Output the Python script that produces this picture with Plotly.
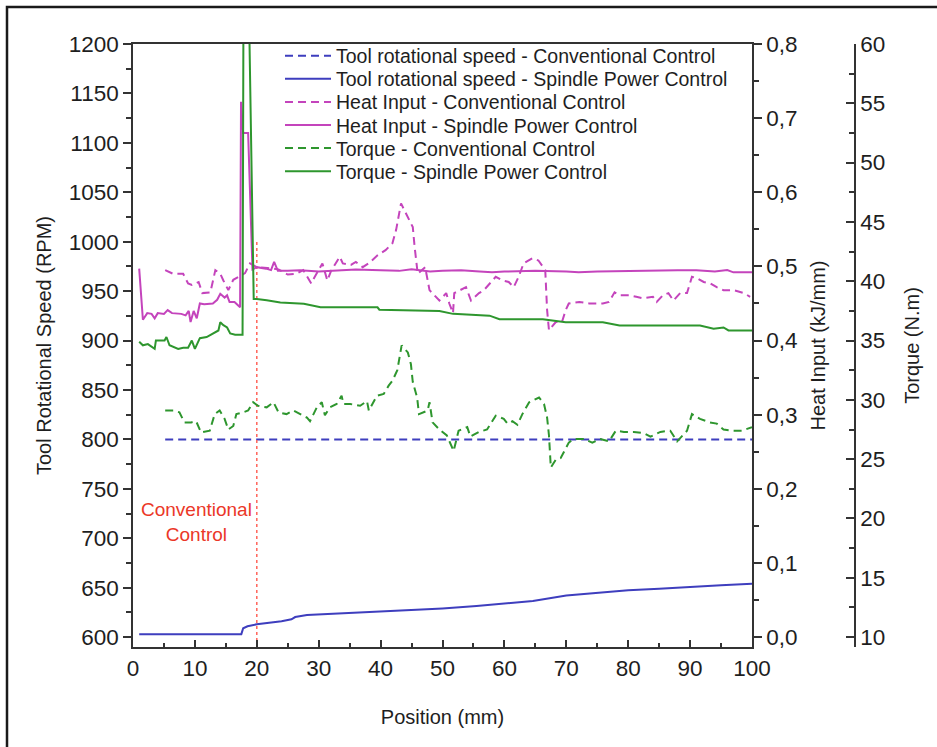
import plotly.graph_objects as go

# ---- Tool rotational speed (RPM) ----
rpm_conv_x = [5.2, 100]
rpm_conv_y = [800, 800]

rpm_spc_x = [1, 17.5, 17.8, 18.5, 20, 22, 24, 25.6, 26.2, 28.1, 32, 37.9, 45.1, 50, 55.5,
             60, 64.6, 70, 75, 80, 85, 90, 95, 100]
rpm_spc_y = [603, 603, 609, 611, 613, 614.5, 616, 618, 620.3, 622.3, 623.5, 624.7, 627, 629,
             631.4, 634, 636.5, 642, 645, 647.5, 649, 651, 652.5, 654]

# ---- Heat input (kJ/mm) ----
heat_conv_x = [5.2, 6.5, 8.1, 8.9, 9.5, 10.6, 11.2, 12.5, 13.3, 14.1, 14.6, 15.4, 16.2, 17.0,
               18.1, 18.9, 20.0, 21.7, 23.5, 25.0, 26.4, 27.5, 28.8, 29.3, 30.6, 31.4, 32.0,
               33.4, 33.9, 35.2, 36.0, 37.1, 38.2, 39.5, 40.8, 41.9, 42.5, 43.3, 44.6, 45.2,
               45.5, 46.0, 47.2, 47.9, 49.5, 50.6, 51.1, 51.7, 51.9, 53.0, 53.8, 54.6, 55.9,
               56.7, 58.1, 58.6, 59.7, 60.7, 61.5, 62.3, 63.1, 64.5, 65.5, 66.6, 66.9, 67.2,
               68.3, 69.3, 69.9, 70.4, 72.1, 73.7, 74.8, 75.9, 76.9, 77.8, 78.6, 80.2, 81.3,
               82.4, 84.0, 84.6, 85.6, 86.5, 87.3, 88.4, 89.5, 90.3, 91.1, 92.2, 93.3, 94.3,
               95.4, 97.0, 98.7, 99.7]
heat_conv_y = [0.495, 0.490, 0.490, 0.477, 0.475, 0.479, 0.464, 0.465, 0.495, 0.490, 0.481,
               0.468, 0.482, 0.486, 0.491, 0.504, 0.499, 0.498, 0.496, 0.489, 0.490, 0.495,
               0.477, 0.485, 0.504, 0.481, 0.494, 0.513, 0.504, 0.502, 0.506, 0.499, 0.505,
               0.515, 0.522, 0.531, 0.549, 0.585, 0.562, 0.553, 0.526, 0.490, 0.499, 0.468,
               0.454, 0.464, 0.450, 0.437, 0.464, 0.468, 0.472, 0.454, 0.464, 0.468, 0.481,
               0.486, 0.481, 0.479, 0.472, 0.486, 0.504, 0.511, 0.508, 0.495, 0.441, 0.414,
               0.425, 0.425, 0.441, 0.450, 0.452, 0.450, 0.450, 0.450, 0.452, 0.465, 0.461,
               0.461, 0.459, 0.457, 0.459, 0.452, 0.461, 0.464, 0.454, 0.464, 0.464, 0.486,
               0.484, 0.479, 0.477, 0.472, 0.468, 0.468, 0.464, 0.459]

heat_spc_x = [1.0, 1.6, 2.3, 3.0, 3.5, 4.0, 5.0, 5.6, 6.3, 7.0, 7.8, 8.5, 9.0, 9.3, 9.8, 10.3,
              10.8, 11.5, 12.9, 13.6, 14.1, 14.8, 15.2, 15.6, 16.4, 17.3, 17.45, 17.8, 18.6,
              19.3, 20, 21.5, 22.3, 22.8, 23.4, 25, 27, 30, 33, 36, 40, 43, 45, 48, 50, 53,
              56, 58, 60, 65, 70, 72, 75, 80, 85, 88, 91, 94, 96, 97, 100]
heat_spc_y = [0.497, 0.428, 0.437, 0.436, 0.430, 0.437, 0.436, 0.441, 0.437, 0.437, 0.436,
              0.434, 0.440, 0.425, 0.440, 0.430, 0.450, 0.449, 0.450, 0.455, 0.463, 0.458,
              0.461, 0.452, 0.452, 0.445, 0.722, 0.680, 0.680, 0.496, 0.499, 0.497, 0.495,
              0.506, 0.494, 0.494, 0.495, 0.493, 0.495, 0.496, 0.495, 0.494, 0.496, 0.493,
              0.494, 0.495, 0.493, 0.492, 0.493, 0.494, 0.493, 0.492, 0.493, 0.494, 0.494,
              0.495, 0.495, 0.493, 0.495, 0.492, 0.492]

# ---- Torque (N.m) ----
torque_conv_x = [5.2, 6.5, 7.5, 8.3, 9.4, 10.2, 11.0, 12.4, 13.2, 14.0, 14.8, 15.4, 16.2,
                 16.7, 17.8, 18.6, 19.4, 20.2, 21.6, 22.7, 23.5, 24.8, 25.9, 27.0, 28.1,
                 28.6, 29.7, 30.5, 31.0, 31.8, 32.9, 33.7, 34.0, 35.1, 36.7, 37.8, 38.1,
                 39.4, 40.5, 41.3, 41.9, 42.7, 43.4, 44.4, 44.9, 45.2, 45.9, 46.2, 47.6,
                 47.9, 48.4, 49.5, 50.7, 51.8, 52.6, 54.0, 54.5, 55.9, 57.2, 58.6, 59.9,
                 60.5, 61.3, 62.1, 62.9, 64.0, 65.6, 66.4, 66.9, 67.2, 67.5, 68.3, 69.1,
                 70.4, 71.2, 72.8, 74.2, 75.5, 76.9, 78.0, 79.3, 80.9, 82.5, 83.6, 85.2,
                 86.8, 87.9, 89.5, 90.3, 91.6, 93.2, 94.3, 95.4, 97.0, 98.4, 100.0]
torque_conv_y = [29.1, 29.1, 28.95, 28.1, 28.1, 28.2, 27.25, 27.4, 28.8, 29.1, 28.4, 27.5,
                 27.8, 28.8, 28.95, 29.1, 29.8, 29.5, 29.37, 29.8, 28.95, 28.8, 29.1, 28.8,
                 28.5, 28.2, 29.37, 29.8, 28.7, 29.37, 29.65, 30.35, 29.65, 29.65, 29.5,
                 29.9, 29.1, 30.35, 30.5, 31.2, 31.6, 32.5, 34.6, 34.0, 33.0, 31.5, 30.2,
                 28.8, 29.1, 29.8, 28.1, 27.5, 27.0, 25.7, 27.4, 27.7, 26.9, 27.3, 27.5,
                 28.67, 28.4, 28.0, 28.2, 27.9, 28.8, 29.8, 30.2, 29.65, 28.5, 27.0, 24.3,
                 24.96, 25.1, 26.4, 26.7, 26.7, 26.4, 26.7, 26.5, 27.4, 27.3, 27.3, 27.2,
                 26.9, 27.3, 27.4, 26.5, 27.4, 28.8, 28.4, 28.1, 28.0, 27.5, 27.4, 27.4, 27.7]

torque_spc_x = [1.0, 1.6, 2.4, 3.5, 3.7, 5.1, 5.4, 5.9, 7.3, 8.1, 8.9, 9.5, 10.0, 10.8, 11.9,
                13.0, 13.8, 14.1, 14.6, 15.2, 15.7, 16.5, 17.7, 17.85, 18.7, 19.5, 20.0,
                21.6, 23.8, 27.6, 30.3, 39.5, 39.8, 49.5, 51.7, 57.6, 59.2, 66.2, 69.9,
                75.9, 78.6, 91.6, 93.8, 95.4, 96.2, 100]
torque_spc_y = [34.9, 34.6, 34.7, 34.3, 35.0, 35.0, 35.3, 34.6, 34.3, 34.4, 34.4, 35.0, 34.3,
                35.2, 35.3, 35.6, 35.85, 36.55, 36.3, 36.1, 35.6, 35.5, 35.5, 64, 64, 38.5,
                38.5, 38.4, 38.2, 38.1, 37.8, 37.8, 37.6, 37.5, 37.25, 37.1, 36.8, 36.8,
                36.55, 36.55, 36.27, 36.27, 36.0, 36.1, 35.85, 35.85]

# ---- Axis ticks ----
rpm_ticks = [600, 650, 700, 750, 800, 850, 900, 950, 1000, 1050, 1100, 1150, 1200]
heat_ticks = [0.0, 0.1, 0.2, 0.3, 0.4, 0.5, 0.6, 0.7, 0.8]
heat_ticklabels = ["0,0", "0,1", "0,2", "0,3", "0,4", "0,5", "0,6", "0,7", "0,8"]
torque_ticks = [10, 15, 20, 25, 30, 35, 40, 45, 50, 55, 60]
pos_ticks = [0, 10, 20, 30, 40, 50, 60, 70, 80, 90, 100]

switch_pos = 20          # position where conventional control was switched on
switch_rpm_top = 1001

BLUE = "rgb(62,62,190)"
MAGENTA = "rgb(196,68,188)"
GREEN = "rgb(46,150,46)"
RED = "rgb(255,100,90)"
INK = "#1e1e1e"
FONT = "Liberation Sans, Arial, sans-serif"
DASH = "8px,5px"
TICK_SIZE = 22.5

# plot area in pixels (used to place the stacked legend rows)
PLOT_LEFT, PLOT_BOTTOM, PAPER_W, PAPER_H = 133, 647, 722, 603
LEGEND_ROW_TOP = 56
LEGEND_ROW_STEP = 23.1


def paper_y(py):
    return (PLOT_BOTTOM - py) / PAPER_H


series = [
    ("Tool rotational speed - Conventional Control", rpm_conv_x, rpm_conv_y, "y", BLUE, DASH),
    ("Tool rotational speed - Spindle Power Control", rpm_spc_x, rpm_spc_y, "y", BLUE, "solid"),
    ("Heat Input - Conventional Control", heat_conv_x, heat_conv_y, "y2", MAGENTA, DASH),
    ("Heat Input - Spindle Power Control", heat_spc_x, heat_spc_y, "y2", MAGENTA, "solid"),
    ("Torque - Conventional Control", torque_conv_x, torque_conv_y, "y3", GREEN, DASH),
    ("Torque - Spindle Power Control", torque_spc_x, torque_spc_y, "y3", GREEN, "solid"),
]

fig = go.Figure()
legend_layout = {}
for i, (name, xs, ys, yax, color, dash) in enumerate(series):
    key = "legend" if i == 0 else f"legend{i + 1}"
    fig.add_trace(go.Scatter(x=xs, y=ys, mode="lines", yaxis=yax, name=name, legend=key,
                             line=dict(color=color, width=2, dash=dash)))
    legend_layout[key] = dict(
        x=(280 - PLOT_LEFT) / PAPER_W, y=paper_y(LEGEND_ROW_TOP + i * LEGEND_ROW_STEP),
        xanchor="left", yanchor="middle", bgcolor="rgba(0,0,0,0)", borderwidth=0,
        itemwidth=46, font=dict(family=FONT, size=19.5, color=INK))

# switch marker
fig.add_trace(go.Scatter(x=[switch_pos, switch_pos], y=[590, switch_rpm_top], mode="lines",
                         yaxis="y", showlegend=False, hoverinfo="skip",
                         line=dict(color=RED, width=1.5, dash="dot")))

fig.add_annotation(x=10.3, y=716, xref="x", yref="y", text="Conventional<br>Control",
                   showarrow=False, font=dict(family=FONT, size=19, color="rgb(235,55,40)"))

axis_common = dict(showgrid=False, zeroline=False, showline=True, linecolor="#333",
                   linewidth=1.5, tickcolor="#333", tickwidth=1.5,
                   tickfont=dict(family=FONT, size=TICK_SIZE, color=INK))

fig.update_layout(
    width=937, height=747,
    margin=dict(l=133, r=82, t=44, b=100),
    paper_bgcolor="white", plot_bgcolor="white",
    font=dict(family=FONT, color=INK),
    xaxis=dict(domain=[0, 619 / PAPER_W], range=[0, 100], tickvals=pos_ticks, ticks="inside",
               ticklen=7, mirror=True,
               minor=dict(dtick=5, tick0=0, ticks="inside", ticklen=4, tickcolor="#333"),
               title=dict(text="Position (mm)", font=dict(family=FONT, size=20, color=INK),
                          standoff=30),
               **axis_common),
    yaxis=dict(range=[590, 1200], tickvals=rpm_ticks, ticks="outside", ticklen=8,
               minor=dict(dtick=25, tick0=0, ticks="outside", ticklen=5, tickcolor="#333"),
               title=dict(text="Tool Rotational Speed (RPM)",
                          font=dict(family=FONT, size=20, color=INK), standoff=12),
               **axis_common),
    yaxis2=dict(range=[-0.8 / 60, 0.8], overlaying="y", side="right", anchor="x",
                tickvals=heat_ticks, ticktext=heat_ticklabels, ticks="outside", ticklen=8,
                minor=dict(dtick=0.05, tick0=0, ticks="outside", ticklen=5, tickcolor="#333"),
                title=dict(text="Heat Input (kJ/mm)",
                           font=dict(family=FONT, size=20, color=INK), standoff=14),
                **axis_common),
    yaxis3=dict(range=[10 - 50 / 60, 60], overlaying="y", side="right", anchor="free",
                position=1.0, tickvals=torque_ticks, ticks="inside", ticklen=8,
                minor=dict(dtick=2.5, tick0=0, ticks="inside", ticklen=5, tickcolor="#333"),
                title=dict(text="Torque (N.m)",
                           font=dict(family=FONT, size=20, color=INK), standoff=20),
                **axis_common),
    shapes=[dict(type="rect", xref="paper", yref="paper",
                 x0=(7 - PLOT_LEFT) / PAPER_W, x1=(945 - PLOT_LEFT) / PAPER_W,
                 y0=paper_y(760), y1=paper_y(7),
                 line=dict(color="#1a1a1a", width=2.5), fillcolor="rgba(0,0,0,0)",
                 layer="below")],
    **legend_layout,
)

fig.write_html("out.html")
